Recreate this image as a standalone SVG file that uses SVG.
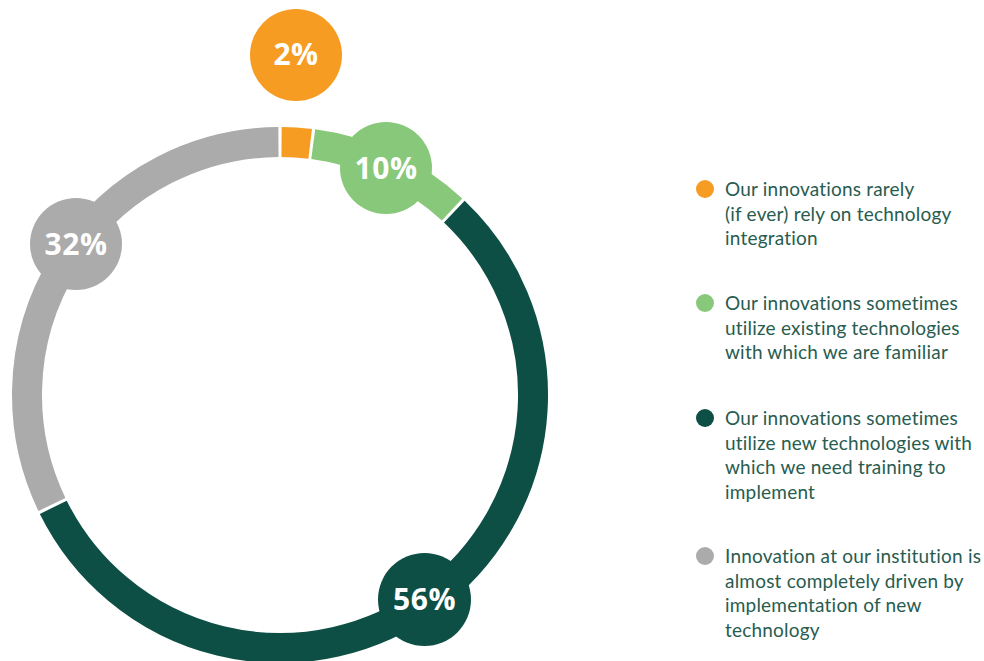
<svg xmlns="http://www.w3.org/2000/svg" width="984" height="661" viewBox="0 0 984 661">
<style>
.seg{fill:none;stroke-width:30;stroke-linecap:butt}
.pct{font-family:"Open Sans","Noto Sans",sans-serif;font-weight:700;font-size:30px;fill:#ffffff;text-anchor:middle;letter-spacing:0.5px}
.leg{font-family:Lato,"Noto Sans",sans-serif;font-size:19px;letter-spacing:0.2px;font-variant-ligatures:none;fill:#285c50}
.orange{fill:#f69c22}
.green{fill:#88c87a}
.dark{fill:#0d4f45}
.gray{fill:#ababab}
</style>
<rect width="984" height="661" fill="#ffffff"/>
<g id="ring">
<path class="seg" stroke="#f69c22" d="M281.55,142.0 A253,253 0 0 1 310.18,143.81"/>
<path class="seg" stroke="#88c87a" d="M313.24,144.19 A253,253 0 0 1 452.08,209.54"/>
<path class="seg" stroke="#0d4f45" d="M454.33,211.65 A253,253 0 1 1 53.29,507.29"/>
<path class="seg" stroke="#ababab" d="M51.93,504.52 A253,253 0 0 1 278.45,142.0"/>
</g>
<g id="label-2">
<circle class="orange" cx="296" cy="55" r="46"/>
<text class="pct" x="296" y="65">2%</text>
</g>
<g id="label-10">
<circle class="green" cx="386" cy="168" r="46"/>
<text class="pct" x="386" y="179">10%</text>
</g>
<g id="label-32">
<circle class="gray" cx="76" cy="244" r="46"/>
<text class="pct" x="76" y="255">32%</text>
</g>
<g id="label-56">
<circle class="dark" cx="424.5" cy="599.5" r="46.5"/>
<text class="pct" x="424.5" y="610">56%</text>
</g>
<g id="legend-1">
<circle class="orange" cx="705" cy="189" r="9"/>
<text class="leg" x="725" y="196">Our innovations rarely</text>
<text class="leg" x="725" y="220.5">(if ever) rely on technology</text>
<text class="leg" x="725" y="245">integration</text>
</g>
<g id="legend-2">
<circle class="green" cx="705" cy="303" r="9"/>
<text class="leg" x="725" y="310">Our innovations sometimes</text>
<text class="leg" x="725" y="334.5">utilize existing technologies</text>
<text class="leg" x="725" y="359">with which we are familiar</text>
</g>
<g id="legend-3">
<circle class="dark" cx="705" cy="418" r="9"/>
<text class="leg" x="725" y="425">Our innovations sometimes</text>
<text class="leg" x="725" y="449.5">utilize new technologies with</text>
<text class="leg" x="725" y="474">which we need training to</text>
<text class="leg" x="725" y="498.5">implement</text>
</g>
<g id="legend-4">
<circle class="gray" cx="705" cy="556" r="9"/>
<text class="leg" x="725" y="563">Innovation at our institution is</text>
<text class="leg" x="725" y="587.5">almost completely driven by</text>
<text class="leg" x="725" y="612">implementation of new</text>
<text class="leg" x="725" y="636.5">technology</text>
</g>
</svg>
